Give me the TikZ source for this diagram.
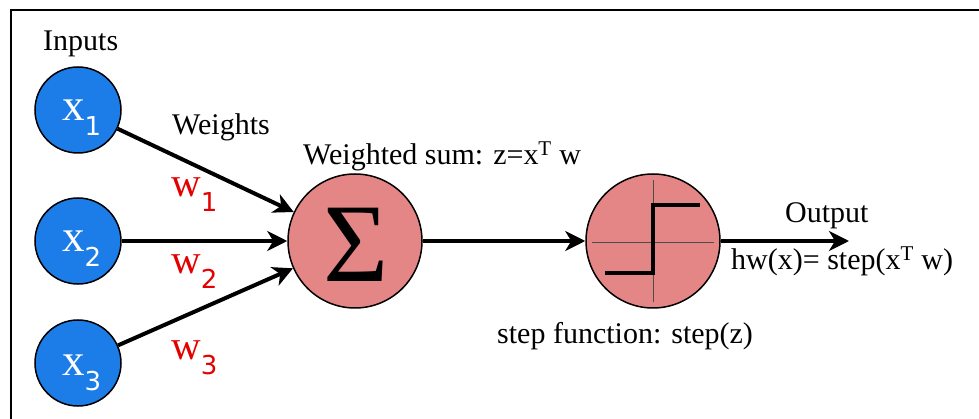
\documentclass[tikz,border=0pt]{standalone}
\usepackage{fontspec}
\setmainfont{Liberation Serif}
\newfontfamily\dvs{DejaVu Sans}
\usetikzlibrary{arrows.meta}
\definecolor{inblue}{RGB}{28,124,232}
\definecolor{sumpink}{RGB}{228,134,134}
\definecolor{wred}{RGB}{228,0,0}
\newcommand{\subsc}[1]{\raisebox{-15pt}{\dvs\fontsize{26}{28}\selectfont #1}}
\tikzset{
  x=1pt, y=-1pt,
  inp/.style={circle, draw=black, line width=1.5pt, fill=inblue, minimum size=86pt, inner sep=0pt},
  neuron/.style={circle, draw=black, line width=1.5pt, fill=sumpink, minimum size=134pt, inner sep=0pt},
  arr/.style={line width=4pt, -{Stealth[length=20pt,width=20pt,inset=6pt]}},
  lbl/.style={font=\fontsize{30}{36}\selectfont, inner sep=0pt, anchor=base west},
  xlbl/.style={text=white, font=\fontsize{45}{48}\selectfont, inner sep=0pt, anchor=base west},
  wlbl/.style={text=wred, font=\fontsize{41}{44}\selectfont, inner sep=0pt, anchor=base west},
  thin axis/.style={line width=1pt, draw=black!70},
  stepline/.style={line width=4.5pt, line join=miter},
}
\begin{document}
\begin{tikzpicture}
\useasboundingbox (0,0) rectangle (979,419);
\fill[white] (0,0) rectangle (979,419);
% frame
\draw[line width=2.5pt] (11,421) -- (11,10) -- (981,10);

% input nodes
\node[inp] (x1) at (78,110) {};
\node[inp] (x2) at (78,241) {};
\node[inp] (x3) at (78,363) {};
\node[xlbl] (x1l) at (62,121) {x\subsc{1}};
\node[xlbl] (x2l) at (62,252) {x\subsc{2}};
\node[xlbl] (x3l) at (62,375) {x\subsc{3}};

% sum and step neurons
\node[neuron] (sum) at (355,241) {};
\node[inner sep=0pt, font=\fontsize{112}{112}\selectfont] (sigma) at (356,245) {Σ};
\node[neuron] (step) at (653,241) {};
\begin{scope}[shift={(653,241)}]
  \draw[thin axis] (-61,2) -- (61,2);
  \draw[thin axis] (0,-61) -- (0,61);
  \draw[stepline] (-48,32) -- (0,32) -- (0,-36) -- (47,-36);
\end{scope}

% connectors
\coordinate (outend) at (849,241);
\draw[arr] (x1) -- (sum);
\draw[arr] (x2) -- (sum);
\draw[arr] (x3) -- (sum);
\draw[arr] (sum) -- (step);
\draw[arr] (step) -- (outend);

% weights
\node[wlbl] (w1) at (171,197) {w\subsc{1}};
\node[wlbl] (w2) at (171,274) {w\subsc{2}};
\node[wlbl] (w3) at (171,359) {w\subsc{3}};

% labels
\node[lbl] (inputs) at (43,51) {Inputs};
\node[lbl] (weights) at (172,135) {Weights};
\node[lbl] (wsum) at (303,165) {Weighted sum: z=x\textsuperscript{T} w};
\node[lbl] (output) at (785,223) {Output};
\node[lbl] (hw) at (731,270) {hw(x)= step(x\textsuperscript{T} w)};
\node[lbl] (stepf) at (497,343) {step function: step(z)};
\end{tikzpicture}
\end{document}
